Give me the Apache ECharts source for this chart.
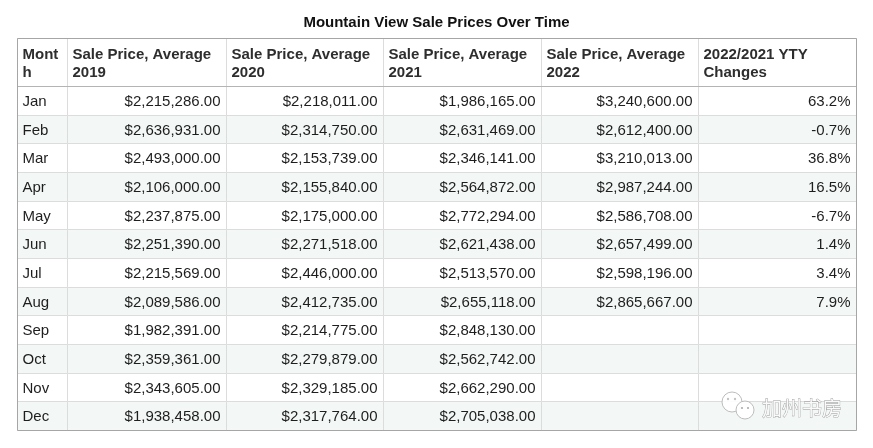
<!DOCTYPE html>
<html>
<head>
<meta charset="utf-8">
<title>Mountain View Sale Prices Over Time</title>
<script src="https://cdn.jsdelivr.net/npm/echarts@6/dist/echarts.min.js"></script>
<style>
  html, body { margin: 0; padding: 0; background: #fff; }
  #main { width: 873px; height: 448px; }
</style>
</head>
<body>
<div id="main"></div>
<script>
'use strict';

// table data
var months = ['Jan', 'Feb', 'Mar', 'Apr', 'May', 'Jun', 'Jul', 'Aug', 'Sep', 'Oct', 'Nov', 'Dec'];
var headers = ['Mont\nh', 'Sale Price, Average\n2019', 'Sale Price, Average\n2020',
    'Sale Price, Average\n2021', 'Sale Price, Average\n2022', '2022/2021 YTY\nChanges'];
var price2019 = [2215286, 2636931, 2493000, 2106000, 2237875, 2251390, 2215569, 2089586, 1982391, 2359361, 2343605, 1938458];
var price2020 = [2218011, 2314750, 2153739, 2155840, 2175000, 2271518, 2446000, 2412735, 2214775, 2279879, 2329185, 2317764];
var price2021 = [1986165, 2631469, 2346141, 2564872, 2772294, 2621438, 2513570, 2655118, 2848130, 2562742, 2662290, 2705038];
var price2022 = [3240600, 2612400, 3210013, 2987244, 2586708, 2657499, 2598196, 2865667, null, null, null, null];
var ytyChange = [63.2, -0.7, 36.8, 16.5, -6.7, 1.4, 3.4, 7.9, null, null, null, null];

// layout (column edges in px units along the x axis, header height in row units)
var colEdges = [0, 49.8, 209.2, 365.8, 523.8, 680.8, 838.8];
var HEADER_H = 1.68;
var FONT = '"Liberation Sans", Arial, Helvetica, sans-serif';

function money(v) {
    if (v == null) return '';
    var s = String(Math.round(v)).replace(/\B(?=(\d{3})+(?!\d))/g, ',');
    return '$' + s + '.00';
}

function cellText(col, row) {
    if (row < 0) return headers[col];
    if (col === 0) return months[row];
    if (col === 1) return money(price2019[row]);
    if (col === 2) return money(price2020[row]);
    if (col === 3) return money(price2021[row]);
    if (col === 4) return money(price2022[row]);
    return ytyChange[row] == null ? '' : ytyChange[row].toFixed(1) + '%';
}

var cells = [];
for (var r = -1; r < months.length; r++) {
    for (var c = 0; c < headers.length; c++) {
        cells.push([c, r]);
    }
}

function rowTop(r) { return r < 0 ? 0 : HEADER_H + r; }
function rowBottom(r) { return r < 0 ? HEADER_H : HEADER_H + r + 1; }
function crisp(v) { return Math.round(v) + 0.5; }

var chart = echarts.init(document.getElementById('main'));

var option = {
    animation: false,
    title: {
        text: 'Mountain View Sale Prices Over Time',
        left: 'center',
        top: 10,
        textStyle: { fontFamily: FONT, fontSize: 15, fontWeight: 'bold', color: '#111' }
    },
    grid: { left: 17, right: 17, top: 38, bottom: 18 },
    xAxis: { type: 'value', min: 0, max: colEdges[colEdges.length - 1], show: false },
    yAxis: { type: 'value', min: 0, max: HEADER_H + months.length, inverse: true, show: false },
    series: [
        {
            type: 'custom',
            clip: false,
            data: cells,
            encode: { x: 0, y: 1 },
            renderItem: function (params, api) {
                var col = api.value(0), row = api.value(1);
                var p0 = api.coord([colEdges[col], rowTop(row)]);
                var p1 = api.coord([colEdges[col + 1], rowBottom(row)]);
                var x0 = crisp(p0[0]), y0 = crisp(p0[1]);
                var x1 = crisp(p1[0]), y1 = crisp(p1[1]);
                var fill = (row >= 0 && row % 2 === 1) ? '#f3f7f6' : '#ffffff';
                var header = row < 0;
                var leftAlign = header || col === 0;
                return {
                    type: 'group',
                    children: [
                        {
                            type: 'rect',
                            shape: { x: x0, y: y0, width: x1 - x0, height: y1 - y0 },
                            style: { fill: fill, stroke: '#dcdcdc', lineWidth: 1 }
                        },
                        {
                            type: 'text',
                            style: {
                                text: cellText(col, row),
                                x: leftAlign ? x0 + 5 : x1 - 6,
                                y: (y0 + y1) / 2 + (header ? 1.5 : 1),
                                align: leftAlign ? 'left' : 'right',
                                verticalAlign: 'middle',
                                fontFamily: FONT,
                                fontSize: 15,
                                fontWeight: header ? 'bold' : 'normal',
                                lineHeight: 18,
                                fill: header ? '#2e2e2e' : '#1e1e1e'
                            }
                        }
                    ]
                };
            },
            z: 2
        },
        {
            // outer frame and header rule
            type: 'custom',
            clip: false,
            data: [[0, 0]],
            encode: { x: 0, y: 1 },
            renderItem: function (params, api) {
                var p0 = api.coord([colEdges[0], 0]);
                var p1 = api.coord([colEdges[colEdges.length - 1], HEADER_H + months.length]);
                var ph = api.coord([0, HEADER_H]);
                var x0 = crisp(p0[0]), y0 = crisp(p0[1]);
                var x1 = crisp(p1[0]), y1 = crisp(p1[1]);
                var yh = crisp(ph[1]);
                return {
                    type: 'group',
                    children: [
                        {
                            type: 'line',
                            shape: { x1: x0, y1: yh, x2: x1, y2: yh },
                            style: { stroke: '#b4b4b4', lineWidth: 1 }
                        },
                        {
                            type: 'rect',
                            shape: { x: x0, y: y0, width: x1 - x0, height: y1 - y0 },
                            style: { fill: null, stroke: '#a6a6a6', lineWidth: 1 }
                        }
                    ]
                };
            },
            z: 3
        }
    ],
    graphic: [
        // watermark: chat bubbles + name
        {
            type: 'circle',
            shape: { cx: 732, cy: 402, r: 10 },
            style: { fill: 'rgba(255,255,255,0.9)', stroke: '#bdbdbd', lineWidth: 1 },
            z: 10
        },
        {
            type: 'circle',
            shape: { cx: 745, cy: 410, r: 9 },
            style: { fill: 'rgba(255,255,255,0.95)', stroke: '#bdbdbd', lineWidth: 1 },
            z: 11
        },
        { type: 'circle', shape: { cx: 728, cy: 399, r: 1.2 }, style: { fill: '#c4c4c4' }, z: 10 },
        { type: 'circle', shape: { cx: 735, cy: 399, r: 1.2 }, style: { fill: '#c4c4c4' }, z: 10 },
        { type: 'circle', shape: { cx: 742, cy: 408, r: 1.1 }, style: { fill: '#adadad' }, z: 12 },
        { type: 'circle', shape: { cx: 748, cy: 408, r: 1.1 }, style: { fill: '#adadad' }, z: 12 },
        {
            type: 'text',
            z: 12,
            style: {
                text: '加州书房',
                x: 762,
                y: 408,
                verticalAlign: 'middle',
                fontFamily: '"Noto Sans CJK SC", sans-serif',
                fontSize: 20,
                fill: '#fafafa',
                stroke: '#999999',
                lineWidth: 0.8
            }
        }
    ]
};

chart.setOption(option);
</script>
</body>
</html>
